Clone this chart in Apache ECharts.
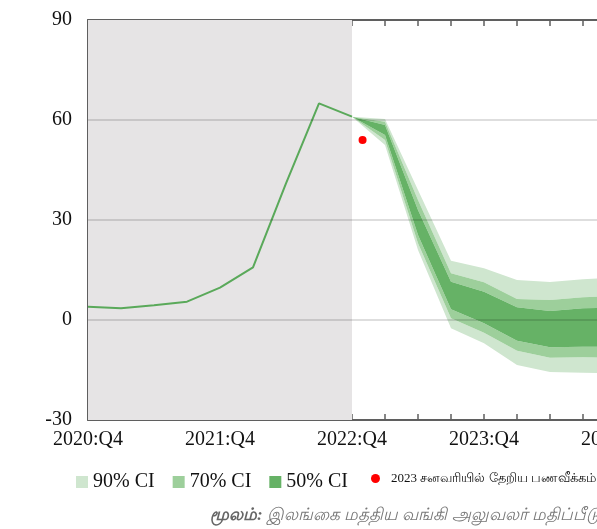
<!DOCTYPE html>
<html>
<head>
<meta charset="utf-8">
<script src="https://cdn.jsdelivr.net/npm/echarts@6/dist/echarts.min.js"></script>
<style>
html,body{margin:0;padding:0;background:#fff;}
#c{width:597px;height:529px;}
</style>
</head>
<body>
<div id="c"></div>
<script>
// ---- data ----
const quarters = ['2020:Q4','2021:Q1','2021:Q2','2021:Q3','2021:Q4','2022:Q1','2022:Q2','2022:Q3','2022:Q4',
                  '2023:Q1','2023:Q2','2023:Q3','2023:Q4','2024:Q1','2024:Q2','2024:Q3','2024:Q4'];
const histIdx = [0,1,2,3,4,5,6,7,8];
const histVals = [4, 3.5, 4.4, 5.5, 9.7, 15.8, 41, 65, 61];
const fanIdx = [8,9,10,11,12,13,14,15,16];
const u90 = [61, 60.3, 39, 17.8, 15.5, 12, 11.4, 12.2, 12.8];
const u70 = [61, 59.5, 36, 14, 11.3, 6.3, 6, 6.8, 7.3];
const u50 = [61, 58.5, 33, 11.5, 8.5, 3.8, 2.7, 3.5, 3.8];
const l50 = [61, 55.5, 25.5, 3.2, -1, -6.2, -8.2, -8, -8];
const l70 = [61, 54, 23, 0.5, -3.8, -9.2, -11.3, -11.2, -11.3];
const l90 = [61, 52.5, 21, -2.5, -7, -13.5, -15.6, -15.8, -16];
const shadeRange = [0, 8];
const dotIdx = [8.32];
const dotVals = [54];
const yTicks = [-30, 0, 30, 60, 90];
const legendNames = ['90% CI', '70% CI', '50% CI', '2023 சனவரியில் தேறிய பணவீக்கம்'];
const sourceLabel = 'மூலம்:';
const sourceText = ' இலங்கை மத்திய வங்கி அலுவலர் மதிப்பீடுகள்';

// ---- build ----
const pairs = (xs, ys) => xs.map((x, i) => [x, ys[i]]);
const C90 = '#cfe6cf', C70 = '#9dcf9b', C50 = '#66b266';
const serif = '"Liberation Serif", "DejaVu Serif", serif';
const axisCol = '#5f5f5f';

function bandSeries(name, color, polys) {
  return {
    name, type: 'custom', silent: true, z: 2,
    itemStyle: { color },
    encode: { x: 0, y: 1 },
    data: polys.map(p => [fanIdx[0], p[0][0]]),
    renderItem: function (params, api) {
      const p = polys[params.dataIndex];
      const lo = p[0], hi = p[1];
      const pts = fanIdx.map((x, i) => api.coord([x, hi[i]]))
        .concat(fanIdx.map((x, i) => api.coord([x, lo[i]])).reverse());
      return { type: 'polygon', shape: { points: pts }, style: { fill: color } };
    }
  };
}

const series = [
  { name: 'shade', type: 'line', data: [], silent: true, z: 1,
    markArea: { silent: true, itemStyle: { color: '#e6e4e5' },
      data: [[{ xAxis: shadeRange[0] }, { xAxis: shadeRange[1] }]] } },
  bandSeries(legendNames[0], C90, [[l90, l70], [u70, u90]]),
  bandSeries(legendNames[1], C70, [[l70, l50], [u50, u70]]),
  bandSeries(legendNames[2], C50, [[l50, u50]]),
  { name: 'hist', type: 'line', data: pairs(histIdx, histVals), symbol: 'none',
    lineStyle: { color: '#5aa95a', width: 2 }, itemStyle: { color: '#5aa95a' }, z: 3, silent: true },
  { name: 'grid', type: 'line', data: [], silent: true, z: 4,
    markLine: { silent: true, symbol: 'none', label: { show: false },
      lineStyle: { color: 'rgba(0,0,0,0.13)', width: 2, type: 'solid' },
      data: yTicks.filter(v => v > yTicks[0] && v < yTicks[yTicks.length - 1]).map(v => ({ yAxis: v })) } },
  { name: legendNames[3], type: 'scatter', data: pairs(dotIdx, dotVals), symbolSize: 8,
    itemStyle: { color: '#ff0000', opacity: 1 }, z: 5, silent: true }
];

const xCommon = {
  type: 'value', min: 0, max: quarters.length - 1, interval: 1,
  axisLine: { show: true, onZero: false, lineStyle: { color: axisCol, width: 2 } },
  axisTick: { show: true, inside: true, length: 6, lineStyle: { color: axisCol, width: 1.5 } },
  splitLine: { show: false }
};

const chart = echarts.init(document.getElementById('c'), null, { renderer: 'canvas' });
chart.setOption({
  animation: false,
  backgroundColor: '#ffffff',
  grid: { left: 88, right: -19, top: 20, bottom: 109, containLabel: false, outerBoundsMode: 'none' },
  xAxis: [
    Object.assign({}, xCommon, { position: 'bottom',
      axisLabel: { show: true, margin: 10, color: '#111', fontFamily: serif, fontSize: 20,
        formatter: v => (v % 4 === 0 ? quarters[v] : '') } }),
    Object.assign({}, xCommon, { position: 'top', axisLabel: { show: false } })
  ],
  yAxis: {
    type: 'value', min: yTicks[0], max: yTicks[yTicks.length - 1], interval: 30,
    axisLine: { show: true, onZero: false, lineStyle: { color: axisCol, width: 2 } },
    axisTick: { show: true, inside: true, length: 6, lineStyle: { color: axisCol, width: 2 } },
    splitLine: { show: false },
    axisLabel: { margin: 16, color: '#111', fontFamily: serif, fontSize: 20 }
  },
  legend: [{
    left: 71, top: 467, width: 600, itemWidth: 12, itemHeight: 12, itemGap: 18,
    selectedMode: false,
    data: [
      { name: legendNames[0], icon: 'rect' },
      { name: legendNames[1], icon: 'rect' },
      { name: legendNames[2], icon: 'rect' }
    ],
    textStyle: { color: '#111', fontFamily: serif, fontSize: 20 }
  }, {
    left: 366, top: 467, width: 600, itemWidth: 9, itemHeight: 9,
    selectedMode: false,
    data: [{ name: legendNames[3], icon: 'circle' }],
    textStyle: { color: '#111', fontFamily: serif, fontSize: 13, padding: [3, 0, 0, 6] }
  }],
  graphic: [{
    type: 'text', left: 210, top: 507, silent: true,
    style: {
      text: '{b|' + sourceLabel + '}{n|' + sourceText + '}',
      rich: {
        b: { fontSize: 17, fontStyle: 'italic', fontWeight: 'bold', fill: '#666', fontFamily: serif },
        n: { fontSize: 17, fontStyle: 'italic', fill: '#777', fontFamily: serif }
      }
    }
  }],
  series
});
</script>
</body>
</html>
